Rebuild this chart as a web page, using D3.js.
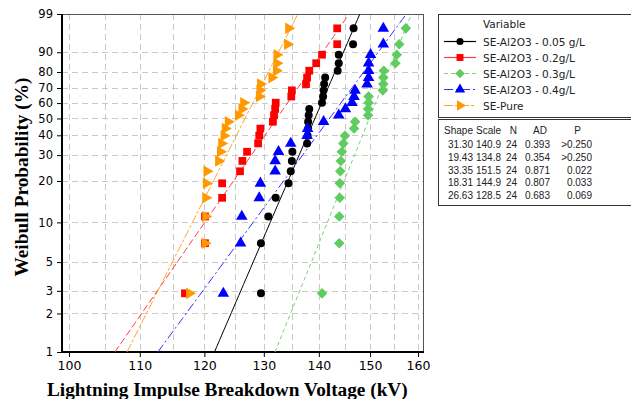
<!DOCTYPE html>
<html>
<head>
<meta charset="utf-8">
<script src="https://cdn.jsdelivr.net/npm/d3@7"></script>
<style>
  body { margin: 0; background: #fff; }
  svg { display: block; }
</style>
</head>
<body>
<svg id="chart" width="631" height="399"></svg>
<script>
// Breakdown voltages (kV), 24 shots per sample, sorted ascending
const seriesNames = ["SE-Al2O3 - 0.05 g/L", "SE-Al2O3 - 0.2g/L", "SE-Al2O3 - 0.3g/L", "SE-Al2O3 - 0.4g/L", "SE-Pure"];
const al005 = [129.5, 129.5, 130.8, 132.1, 134.4, 134.8, 135.0, 135.1, 137.8, 137.9, 138.0, 138.0,
               138.1, 138.2, 140.6, 140.8, 140.9, 141.0, 141.2, 143.6, 143.8, 143.8, 146.6, 146.7];
const al02  = [116.9, 120.1, 120.1, 122.9, 122.9, 125.9, 126.3, 127.1, 129.0, 129.2, 129.4, 131.6,
               131.8, 132.0, 132.1, 134.9, 135.0, 137.6, 137.8, 138.2, 139.5, 140.6, 143.5, 143.5];
const al03  = [140.6, 143.9, 143.9, 144.0, 144.0, 144.1, 144.2, 144.4, 144.7, 145.0, 146.8, 147.0,
               149.6, 149.6, 149.7, 149.7, 152.6, 152.7, 152.7, 152.8, 155.2, 155.5, 156.0, 157.4];
const al04  = [123.1, 126.0, 126.2, 129.2, 129.4, 132.0, 132.0, 132.6, 134.8, 137.8, 137.9, 140.9,
               143.8, 145.1, 146.4, 146.8, 147.0, 149.4, 149.7, 149.7, 149.7, 150.1, 152.7, 152.7];
const pure  = [117.6, 120.1, 120.2, 120.2, 120.3, 120.4, 122.3, 122.6, 122.8, 123.2, 123.4, 123.9,
               125.6, 126.2, 126.5, 129.2, 129.3, 129.4, 131.4, 132.2, 132.3, 132.3, 134.2, 134.4];

// Weibull fit statistics
const shapeParams = [31.30, 19.43, 33.35, 18.31, 26.63];
const scaleParams = [140.9, 134.8, 151.5, 144.9, 128.5];
const nCounts     = [24, 24, 24, 24, 24];
const adStats     = ["0.393", "0.354", "0.871", "0.807", "0.683"];
const pStats      = [">0.250", ">0.250", "0.022", "0.033", "0.069"];

const xTicks = [100, 110, 120, 130, 140, 150, 160];
const xGrid  = [100, 105, 110, 115, 120, 125, 130, 135, 140, 145, 150, 155, 160];
const yTicks = [1, 2, 3, 5, 10, 20, 30, 40, 50, 60, 70, 80, 90, 99];

const dataSets = [al005, al02, al03, al04, pure];
const colors     = ["#000000", "#ff0000", "#5fcc5f", "#0000ff", "#ff9900"];
const lineColors = ["#000000", "#ff3b3b", "#7ccf7c", "#3030ff", "#ffa526"];
const dashes     = [null, "7,3", "4,3", "9,3,2,3", "9,2,3,2"];
const symbols    = [d3.symbolCircle, d3.symbolSquare, d3.symbolSquare, d3.symbolTriangle, d3.symbolTriangle];
const symSizes   = [50, 60, 56, 58, 58];
const symRotate  = [0, 0, 45, 0, 90];

const L = 62, R = 423, T = 14, B = 352;
const svg = d3.select("#chart");

// Weibull probability transform
const wb = p => Math.log(-Math.log(1 - p / 100));
const x = d3.scaleLog().domain([100, 160]).range([69, 418]);
const y = d3.scaleLinear().domain([wb(1), wb(99)]).range([B, T]);

svg.append("defs").append("clipPath").attr("id", "plotClip")
  .append("rect").attr("x", L).attr("y", T).attr("width", R - L).attr("height", B - T);

// grid
const grid = svg.append("g").attr("stroke", "#c9c9c9").attr("stroke-width", 1).attr("stroke-dasharray", "6,4");
grid.selectAll("line.v").data(xGrid).join("line")
  .attr("x1", d => Math.round(x(d)) + 0.5).attr("x2", d => Math.round(x(d)) + 0.5)
  .attr("y1", T).attr("y2", B);
grid.selectAll("line.h").data(yTicks.filter(d => d > 1 && d < 99)).join("line")
  .attr("y1", d => Math.round(y(wb(d))) + 0.5).attr("y2", d => Math.round(y(wb(d))) + 0.5)
  .attr("x1", L).attr("x2", R);

// frame
svg.append("rect").attr("x", L + 0.5).attr("y", T + 0.5).attr("width", R - L).attr("height", B - T)
  .attr("fill", "none").attr("stroke", "#555").attr("stroke-width", 1);
svg.append("line").attr("x1", L).attr("x2", L).attr("y1", T).attr("y2", B + 1)
  .attr("stroke", "#000").attr("stroke-width", 2);
svg.append("line").attr("x1", L).attr("x2", R + 1).attr("y1", B).attr("y2", B)
  .attr("stroke", "#000").attr("stroke-width", 2);

// axes
const axisFont = "DejaVu Sans, Verdana, sans-serif";
const yAxis = svg.append("g").attr("transform", `translate(${L},0)`)
  .call(d3.axisLeft(y).tickValues(yTicks.map(wb)).tickFormat((d, i) => yTicks[i]).tickSize(5).tickPadding(4).tickSizeOuter(0));
yAxis.select(".domain").remove();
yAxis.selectAll("text").attr("font-family", axisFont).attr("font-size", 11.5).attr("fill", "#000");

const xAxis = svg.append("g").attr("transform", `translate(0,${B})`)
  .call(d3.axisBottom(x).tickValues(xTicks).tickFormat(d3.format("d")).tickSize(5).tickPadding(4).tickSizeOuter(0));
xAxis.select(".domain").remove();
xAxis.selectAll("text").attr("font-family", axisFont).attr("font-size", 12.5).attr("fill", "#000");

// axis titles
svg.append("text").attr("x", 47).attr("y", 396)
  .attr("font-family", "Liberation Serif, Times New Roman, serif").attr("font-weight", "bold")
  .attr("font-size", 19.3).text("Lightning Impulse Breakdown Voltage (kV)");
svg.append("text").attr("transform", "translate(28,177) rotate(-90)").attr("text-anchor", "middle")
  .attr("font-family", "Liberation Serif, Times New Roman, serif").attr("font-weight", "bold")
  .attr("font-size", 19.3).text("Weibull Probability (%)");

// fitted Weibull lines
const tSteps = d3.range(0, 61).map(i => wb(1) + (wb(99) - wb(1)) * i / 60);
const fitLine = d3.line().x(d => x(d.v)).y(d => y(d.t));
const plot = svg.append("g").attr("clip-path", "url(#plotClip)");
dataSets.forEach((vals, s) => {
  const pts = tSteps.map(t => ({ t, v: scaleParams[s] * Math.exp(t / shapeParams[s]) }));
  plot.append("path").datum(pts).attr("d", fitLine)
    .attr("fill", "none").attr("stroke", lineColors[s]).attr("stroke-width", 1)
    .attr("stroke-dasharray", dashes[s]);
});

// data points at median ranks (Benard)
dataSets.forEach((vals, s) => {
  const n = vals.length;
  const pts = vals.slice().sort(d3.ascending).map((v, i) => ({ v, p: 100 * (i + 1 - 0.3) / (n + 0.4) }));
  plot.append("g").selectAll("path").data(pts).join("path")
    .attr("d", d3.symbol(symbols[s], symSizes[s]))
    .attr("transform", d => `translate(${x(d.v)},${y(wb(d.p))}) rotate(${symRotate[s]})`)
    .attr("fill", colors[s]);
});

// legend
const legFont = "DejaVu Sans, Verdana, sans-serif";
svg.append("rect").attr("x", 438.5).attr("y", 14.5).attr("width", 200).attr("height", 103)
  .attr("fill", "#fff").attr("stroke", "#333");
svg.append("text").attr("x", 483).attr("y", 28).attr("font-family", legFont).attr("font-size", 10.5)
  .attr("fill", "#222").text("Variable");
seriesNames.forEach((name, s) => {
  const ly = 41.5 + s * 16;
  svg.append("line").attr("x1", 444).attr("x2", 476).attr("y1", ly).attr("y2", ly)
    .attr("stroke", lineColors[s]).attr("stroke-width", 1.2)
    .attr("stroke-dasharray", s === 1 ? null : dashes[s]);
  svg.append("path").attr("d", d3.symbol(symbols[s], symSizes[s] * 0.8))
    .attr("transform", `translate(460,${ly}) rotate(${symRotate[s]})`).attr("fill", colors[s]);
  svg.append("text").attr("x", 483).attr("y", ly + 4).attr("font-family", legFont).attr("font-size", 10.5)
    .attr("fill", "#222").text(name);
});

// statistics table
const tabFont = "Liberation Sans, Arial, sans-serif";
svg.append("rect").attr("x", 438.5).attr("y", 119.5).attr("width", 200).attr("height", 86)
  .attr("fill", "#fff").attr("stroke", "#333");
const colRight = [473, 501, 517, 550, 592];
const headers = ["Shape", "Scale", "N", "AD", "P"];
const headRight = [473, 501, 517, 547, 581];
headers.forEach((h, c) => {
  svg.append("text").attr("x", headRight[c]).attr("y", 134).attr("text-anchor", "end")
    .attr("font-family", tabFont).attr("font-size", 10).attr("fill", "#222").text(h);
});
shapeParams.forEach((sh, r) => {
  const row = [sh.toFixed(2), scaleParams[r].toFixed(1), String(nCounts[r]), adStats[r], pStats[r]];
  row.forEach((txt, c) => {
    svg.append("text").attr("x", colRight[c]).attr("y", 148 + r * 12.8).attr("text-anchor", "end")
      .attr("font-family", tabFont).attr("font-size", 10).attr("fill", "#222").text(txt);
  });
});
</script>
</body>
</html>
